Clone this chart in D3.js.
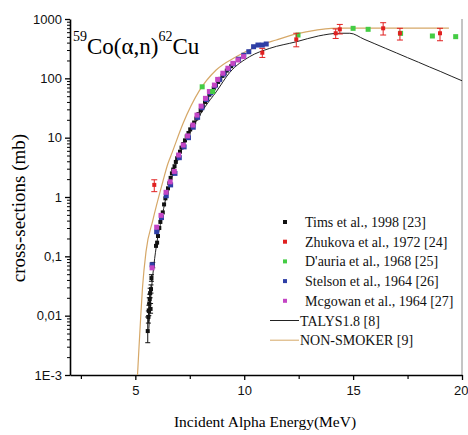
<!DOCTYPE html>
<html>
<head>
<meta charset="utf-8">
<script src="https://cdn.jsdelivr.net/npm/d3@7"></script>
<style>
  body { margin: 0; background: #fff; }
  svg { display: block; }
</style>
</head>
<body>
<div id="chart"></div>
<script>
// data: [energy MeV, cross-section mb]
const timsData = [[5.57,0.0055],[5.60,0.0095],[5.62,0.012],[5.64,0.016],[5.66,0.019],[5.68,0.024],[5.70,0.013],[5.72,0.028],[5.74,0.043],[5.80,0.071],[5.95,0.15],[6.00,0.17],[6.04,0.22],[6.10,0.30],[6.15,0.38],[6.20,0.45],[6.26,0.55],[6.32,0.75],[6.38,0.95],[6.44,1.2],[6.50,1.4],[6.56,1.7],[6.62,2.1],[6.68,2.5],[6.74,2.9],[6.80,3.3],[6.86,3.9],[6.92,4.5],[6.98,5.0],[7.05,5.8],[7.12,6.8],[7.20,7.8],[7.28,9.0],[7.36,10.5],[7.44,12],[7.52,13.8],[7.60,15.5],[7.70,18],[7.80,21],[7.90,25],[8.00,29],[8.10,34],[8.20,40],[8.30,46],[8.40,53],[8.50,60],[8.60,68],[8.70,77],[8.80,87],[8.90,98],[9.00,110],[9.10,122],[9.20,135],[9.30,148],[9.40,160],[9.50,175]];
// error bars on the low Tims points: [energy, low, high]
const timsErrors = [[5.57,0.0035,0.0095],[5.60,0.0075,0.012],[5.62,0.010,0.015],[5.64,0.013,0.020],[5.66,0.016,0.023],[5.68,0.020,0.029],[5.70,0.011,0.016],[5.72,0.024,0.033],[5.74,0.038,0.049],[5.80,0.064,0.079]];
// Zhukova: [energy, value, low, high]
const zhukovaData = [[5.87,1.6,1.23,1.95],[10.83,270,225,320],[12.39,454,340,575],[14.2,575,470,680],[14.39,670,560,810],[16.38,697,537,866],[17.15,575,442,697],[18.99,575,430,697]];
const dauriaData = [[8.07,72],[8.55,60],[12.47,537],[15.0,696],[15.69,670],[17.18,573],[18.64,517],[19.71,504]];
const stelsonData = [[5.77,0.072],[5.98,0.26],[6.20,0.45],[6.42,1.05],[6.62,1.6],[6.82,2.5],[7.02,4.6],[7.24,7],[7.44,10],[7.66,15],[7.86,22],[8.06,32],[8.26,44],[8.46,57],[8.66,75],[8.86,95],[9.06,118],[9.28,145],[9.50,175],[9.74,210],[9.98,245],[10.21,281],[10.43,341],[10.63,364],[10.83,364],[11.01,379]];
const mcgowanData = [[5.77,0.064],[5.98,0.31],[6.18,0.49],[6.41,1.2],[6.60,1.8],[6.79,2.7],[6.99,5.1],[7.20,7.5],[7.40,10.7],[7.64,16.3],[7.83,24],[8.02,34],[8.22,46],[8.40,60],[8.63,77],[8.78,96],[9.02,122],[9.25,148],[9.48,179],[9.71,204],[9.97,232]];
const talysCurve = [[5.62,0.006],[5.7,0.018],[5.85,0.07],[6.0,0.18],[6.2,0.42],[6.4,0.95],[6.7,2.3],[7.0,5],[7.4,10],[7.8,19],[8.2,33],[8.71,59],[9.33,125],[10.25,232],[11.17,320],[12.4,414],[13.4,517],[14.39,575],[14.85,575],[15.5,457],[16.0,382],[16.5,319],[17.0,267],[17.5,223],[18.0,187],[18.5,156],[19.0,131],[19.5,109],[20.0,91]];
const nonSmokerCurve = [[5.10,0.001],[5.17,0.003],[5.25,0.010],[5.33,0.03],[5.49,0.12],[5.80,0.40],[6.26,1.8],[6.49,3.6],[6.69,5.6],[7.18,17],[7.94,62],[8.71,138],[9.63,231],[10.55,341],[11.47,443],[12.4,560],[13.3,650],[14.0,695],[14.6,700],[19.4,700]];

const xTicks = [5, 10, 15, 20];
const xMinorTicks = [2.5, 7.5, 12.5, 17.5];
const yTicks = [1e-3, 0.01, 0.1, 1, 10, 100, 1000];
const yTickLabels = ["1E-3", "0,01", "0,1", "1", "10", "100", "1000"];

const legendItems = [
  {label: "Tims et al., 1998 [23]", color: "#111111", type: "point"},
  {label: "Zhukova et al., 1972 [24]", color: "#e02020", type: "point"},
  {label: "D'auria et al., 1968 [25]", color: "#44cc44", type: "point"},
  {label: "Stelson et al., 1964 [26]", color: "#2f3fa6", type: "point"},
  {label: "Mcgowan et al., 1964 [27]", color: "#c445c4", type: "point"},
  {label: "TALYS1.8 [8]", color: "#222222", type: "line"},
  {label: "NON-SMOKER [9]", color: "#d6a868", type: "line"}
];

const width = 468, height = 435;
const serif = "'Liberation Serif', 'Times New Roman', serif";
const sans = "'Liberation Sans', Arial, sans-serif";

const x = d3.scaleLinear().domain([2, 20]).range([70, 462]);
const y = d3.scaleLog().domain([1e-3, 1000]).range([375, 19]);

const svg = d3.select("#chart").append("svg")
  .attr("width", width)
  .attr("height", height);

// right frame line
svg.append("line")
  .attr("x1", x(20)).attr("x2", x(20))
  .attr("y1", y(1000)).attr("y2", y(1e-3))
  .attr("stroke", "#8a8a8a").attr("stroke-width", 1);

// minor log ticks
const yMinor = [];
for (let e = -3; e < 3; e++) {
  for (let m = 2; m <= 9; m++) yMinor.push(m * Math.pow(10, e));
}

svg.append("g")
  .attr("transform", `translate(${x(2)},0)`)
  .call(d3.axisLeft(y).tickValues(yMinor).tickSize(3).tickSizeOuter(0).tickFormat(""))
  .call(g => g.select(".domain").remove())
  .call(g => g.selectAll("line").attr("stroke-width", 1));

svg.append("g")
  .attr("transform", `translate(${x(2)},0)`)
  .call(d3.axisLeft(y).tickValues(yTicks).tickSize(5).tickSizeOuter(0).tickPadding(3)
    .tickFormat((d, i) => yTickLabels[i]))
  .call(g => g.select(".domain").attr("stroke-width", 1.6))
  .call(g => g.selectAll("line").attr("stroke-width", 1.3))
  .call(g => g.selectAll("text").style("font-family", sans).style("font-size", "13px").attr("fill", "#111"));

svg.append("g")
  .attr("transform", `translate(0,${y(1e-3)})`)
  .call(d3.axisBottom(x).tickValues(xMinorTicks).tickSize(4).tickSizeOuter(0).tickFormat(""))
  .call(g => g.select(".domain").remove())
  .call(g => g.selectAll("line").attr("stroke-width", 1.2));

svg.append("g")
  .attr("transform", `translate(0,${y(1e-3)})`)
  .call(d3.axisBottom(x).tickValues(xTicks).tickSize(5).tickSizeOuter(0).tickPadding(6).tickFormat(d3.format("d")))
  .call(g => g.select(".domain").attr("stroke-width", 1.6))
  .call(g => g.selectAll("line").attr("stroke-width", 1.3))
  .call(g => g.selectAll("text").style("font-family", sans).style("font-size", "13px").attr("fill", "#111"))
  // the last label sits at the page edge, keep it inside
  .call(g => g.selectAll("text").filter(d => d === 20).attr("text-anchor", "end").attr("x", 6));

// axis titles
svg.append("text")
  .attr("transform", `translate(25,${(y(1000) + y(1e-3)) / 2 + 11}) rotate(-90)`)
  .attr("text-anchor", "middle")
  .style("font-family", serif).style("font-size", "19px")
  .text("cross-sections (mb)");

svg.append("text")
  .attr("x", 265).attr("y", 427)
  .attr("text-anchor", "middle")
  .style("font-family", serif).style("font-size", "15.5px")
  .text("Incident Alpha Energy(MeV)");

// reaction label
const reaction = svg.append("text")
  .attr("x", 73).attr("y", 54)
  .style("font-family", serif).style("font-size", "23px");
reaction.append("tspan").attr("dy", -13).style("font-size", "14px").text("59");
reaction.append("tspan").attr("dy", 13).text("Co(α,n)");
reaction.append("tspan").attr("dy", -13).style("font-size", "14px").text("62");
reaction.append("tspan").attr("dy", 13).text("Cu");

// theory curves
const line = d3.line()
  .x(d => x(d[0]))
  .y(d => y(d[1]))
  .curve(d3.curveMonotoneX);

svg.append("path")
  .datum(nonSmokerCurve)
  .attr("fill", "none")
  .attr("stroke", "#d6a868")
  .attr("stroke-width", 1.2)
  .attr("d", line);

svg.append("path")
  .datum(talysCurve)
  .attr("fill", "none")
  .attr("stroke", "#222")
  .attr("stroke-width", 1)
  .attr("d", line);

// error bars
function errorBars(data, color, cap) {
  const g = svg.append("g").attr("stroke", color).attr("stroke-width", 1);
  g.selectAll("line.v").data(data).join("line")
    .attr("x1", d => x(d[0])).attr("x2", d => x(d[0]))
    .attr("y1", d => y(d[1])).attr("y2", d => y(d[2]));
  g.selectAll("line.lo").data(data).join("line")
    .attr("x1", d => x(d[0]) - cap).attr("x2", d => x(d[0]) + cap)
    .attr("y1", d => y(d[1])).attr("y2", d => y(d[1]));
  g.selectAll("line.hi").data(data).join("line")
    .attr("x1", d => x(d[0]) - cap).attr("x2", d => x(d[0]) + cap)
    .attr("y1", d => y(d[2])).attr("y2", d => y(d[2]));
}

function squares(data, color, size) {
  svg.append("g").selectAll("rect").data(data).join("rect")
    .attr("x", d => x(d[0]) - size / 2)
    .attr("y", d => y(d[1]) - size / 2)
    .attr("width", size).attr("height", size)
    .attr("fill", color);
}

errorBars(timsErrors, "#111", 2.5);
squares(timsData, "#111111", 4);
squares(stelsonData, "#2f3fa6", 5);
squares(mcgowanData, "#c445c4", 5);
squares(dauriaData, "#44cc44", 5);
errorBars(zhukovaData.map(d => [d[0], d[2], d[3]]), "#e02020", 3);
squares(zhukovaData, "#e02020", 4);

// legend
const legend = svg.append("g");
legendItems.forEach((item, i) => {
  const ly = 222 + i * 19.7;
  if (item.type === "point") {
    legend.append("rect")
      .attr("x", 283).attr("y", ly - 2).attr("width", 4).attr("height", 4)
      .attr("fill", item.color);
  } else {
    legend.append("line")
      .attr("x1", 270).attr("x2", 299).attr("y1", ly).attr("y2", ly)
      .attr("stroke", item.color).attr("stroke-width", 1);
  }
  legend.append("text")
    .attr("x", item.type === "point" ? 305 : 300)
    .attr("y", ly + 5)
    .style("font-family", serif).style("font-size", "14px")
    .attr("fill", "#111")
    .text(item.label);
});
</script>
</body>
</html>
